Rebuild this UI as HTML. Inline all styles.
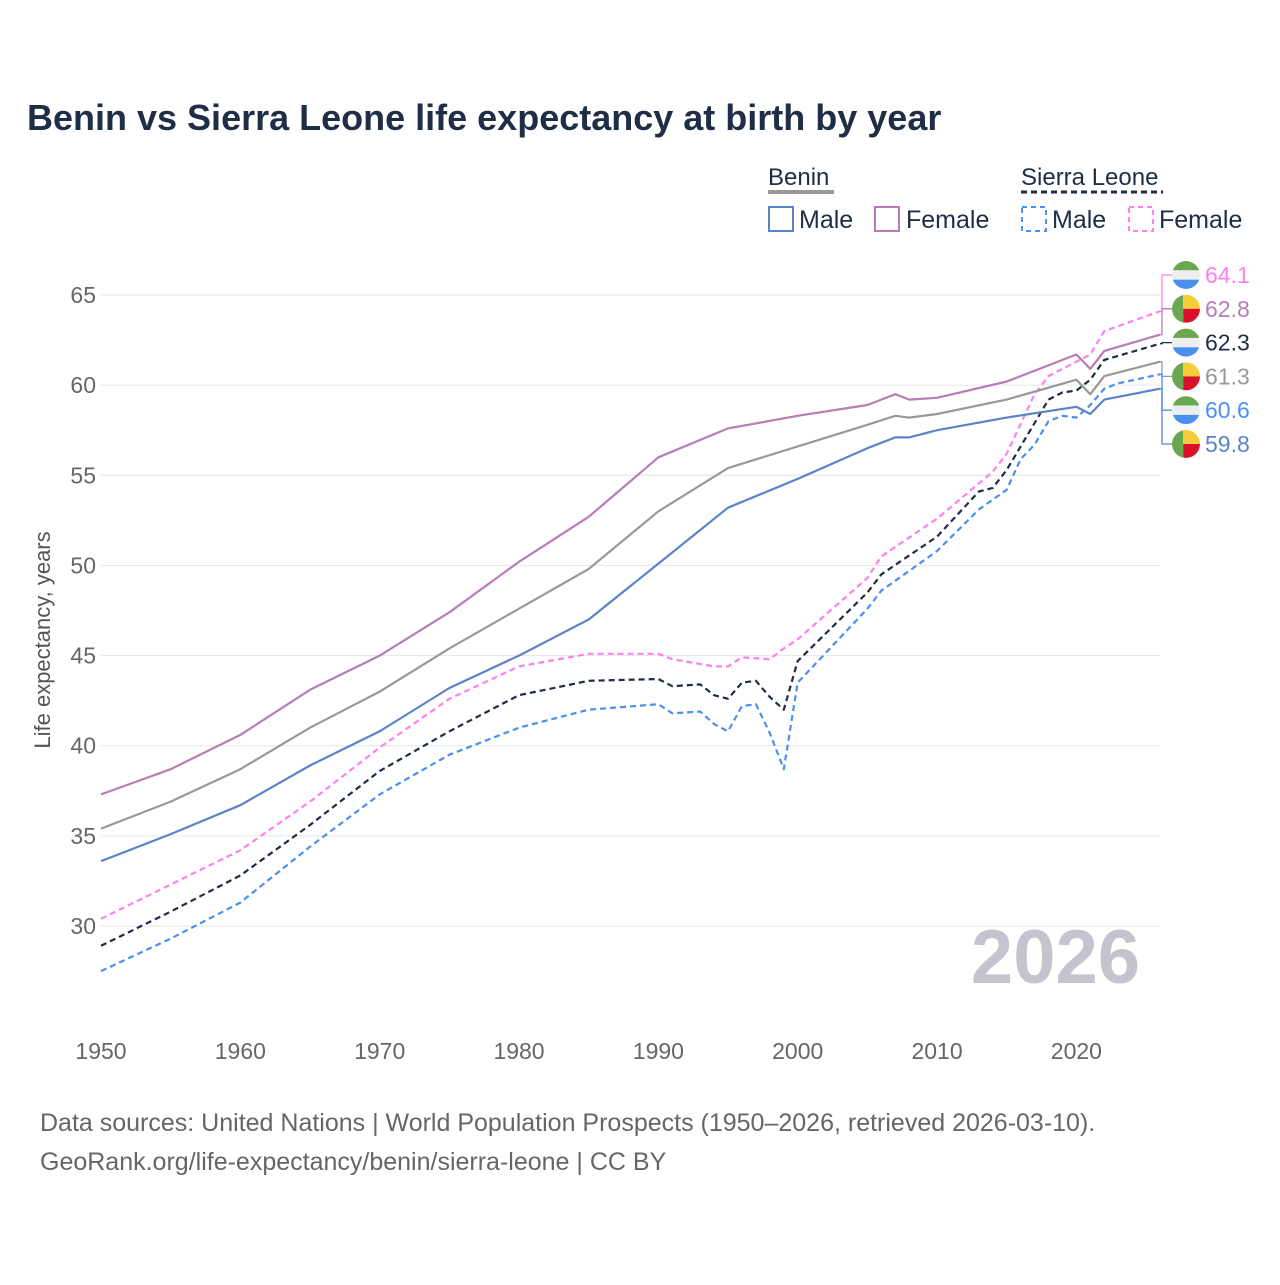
<!DOCTYPE html>
<html><head><meta charset="utf-8">
<style>
body{margin:0;background:#fff;font-family:"Liberation Sans",sans-serif;}
svg text{font-family:"Liberation Sans",sans-serif;}
</style></head>
<body>
<svg id="c" width="1280" height="1280" viewBox="0 0 1280 1280">
<text x="27" y="130" font-size="36" font-weight="bold" fill="#1f2d45">Benin vs Sierra Leone life expectancy at birth by year</text>
<g>
<text x="768" y="185" font-size="24" fill="#1f2d45">Benin</text>
<line x1="768" y1="192" x2="834" y2="192" stroke="#999" stroke-width="4"/>
<rect x="769" y="207" width="24" height="24" fill="none" stroke="#5b84c8" stroke-width="2"/>
<text x="799" y="228" font-size="25" fill="#1f2d45">Male</text>
<rect x="875" y="207" width="24" height="24" fill="none" stroke="#b87cb8" stroke-width="2"/>
<text x="906" y="228" font-size="25" fill="#1f2d45">Female</text>
<text x="1021" y="185" font-size="24" fill="#1f2d45">Sierra Leone</text>
<line x1="1021" y1="192" x2="1163" y2="192" stroke="#1f2d45" stroke-width="3" stroke-dasharray="6,4"/>
<rect x="1022" y="207" width="24" height="24" fill="none" stroke="#4a90f0" stroke-width="2" stroke-dasharray="5,4"/>
<text x="1052" y="228" font-size="25" fill="#1f2d45">Male</text>
<rect x="1129" y="207" width="24" height="24" fill="none" stroke="#ff80ee" stroke-width="2" stroke-dasharray="5,4"/>
<text x="1159" y="228" font-size="25" fill="#1f2d45">Female</text>
</g>
<text transform="translate(50,640) rotate(-90)" text-anchor="middle" font-size="22" fill="#555">Life expectancy, years</text>
<text x="1140" y="983" text-anchor="end" font-size="76" font-weight="bold" fill="#c4c4cf">2026</text>
<g id="grid"></g><g id="lines"></g><g id="labels"></g>
<text x="40" y="1131" font-size="25" fill="#666">Data sources: United Nations | World Population Prospects (1950–2026, retrieved 2026-03-10).</text>
<text x="40" y="1170" font-size="25" fill="#666">GeoRank.org/life-expectancy/benin/sierra-leone | CC BY</text>
</svg>
<script>
const yTicks=[30,35,40,45,50,55,60,65];
const xTicks=[1950,1960,1970,1980,1990,2000,2010,2020];
const bfYears=[1950,1955,1960,1965,1970,1975,1980,1985,1990,1995,2000,2005,2007,2008,2010,2015,2020,2021,2022,2026];
const bfVals=[37.3,38.7,40.6,43.1,45.0,47.4,50.2,52.7,56.0,57.6,58.3,58.9,59.5,59.2,59.3,60.2,61.7,60.9,61.9,62.8];
const btYears=[1950,1955,1960,1965,1970,1975,1980,1985,1990,1995,2000,2005,2007,2008,2010,2015,2020,2021,2022,2026];
const btVals=[35.4,36.9,38.7,41.0,43.0,45.4,47.6,49.8,53.0,55.4,56.6,57.8,58.3,58.2,58.4,59.2,60.3,59.5,60.5,61.3];
const bmYears=[1950,1955,1960,1965,1970,1975,1980,1985,1990,1995,2000,2005,2007,2008,2010,2015,2020,2021,2022,2026];
const bmVals=[33.6,35.1,36.7,38.9,40.8,43.2,45.0,47.0,50.1,53.2,54.8,56.5,57.1,57.1,57.5,58.2,58.8,58.4,59.2,59.8];
const sfYears=[1950,1955,1960,1965,1970,1975,1980,1985,1990,1991,1994,1995,1996,1998,1999,2000,2005,2006,2010,2014,2015,2017,2018,2020,2021,2022,2026];
const sfVals=[30.4,32.3,34.2,36.9,39.9,42.6,44.4,45.1,45.1,44.8,44.4,44.4,44.9,44.8,45.4,45.9,49.3,50.5,52.6,55.2,56.2,59.5,60.5,61.3,61.7,63.0,64.1];
const stYears=[1950,1955,1960,1965,1970,1975,1980,1985,1990,1991,1993,1994,1995,1996,1997,1998,1999,2000,2005,2006,2010,2013,2014,2015,2017,2018,2019,2020,2021,2022,2026];
const stVals=[28.9,30.8,32.8,35.6,38.6,40.8,42.8,43.6,43.7,43.3,43.4,42.8,42.6,43.5,43.6,42.7,42.0,44.7,48.5,49.5,51.6,54.1,54.3,55.3,57.9,59.2,59.6,59.7,60.3,61.4,62.3];
const smYears=[1950,1955,1960,1965,1970,1975,1980,1985,1990,1991,1993,1994,1995,1996,1997,1998,1999,2000,2005,2006,2010,2013,2015,2016,2017,2018,2019,2020,2021,2022,2023,2026];
const smVals=[27.5,29.3,31.3,34.4,37.3,39.5,41.0,42.0,42.3,41.8,41.9,41.2,40.8,42.2,42.3,40.7,38.7,43.5,47.6,48.6,50.8,53.1,54.2,55.9,56.7,58.0,58.3,58.2,58.9,59.8,60.1,60.6];
const endLabels=["64.1","62.8","62.3","61.3","60.6","59.8"];
const NS="http://www.w3.org/2000/svg";
const x=v=>101+(v-1950)*(1059/76);
const y=v=>295+(65-v)*(631/35);
function mk(t,a,p){const e=document.createElementNS(NS,t);for(const k in a)e.setAttribute(k,a[k]);p.appendChild(e);return e;}
const grid=document.getElementById('grid');
yTicks.forEach(t=>{
 const l=mk('line',{x1:101,x2:1160,y1:y(t),y2:y(t),stroke:'#e6e6e6','stroke-width':1},grid);
 
 
 const tx=mk('text',{x:96,y:y(t)+8,'text-anchor':'end','font-size':23,fill:'#666'},grid);tx.textContent=t;
 
 
});
xTicks.forEach(t=>{
 const tx=mk('text',{x:x(t),y:1059,'text-anchor':'middle','font-size':23,fill:'#666'},grid);tx.textContent=t;
 
 
});
const lines=document.getElementById('lines');
const series=[
 [smYears,smVals,'#4a90f0','6,4','sierra-leone-male-line'],
 [sfYears,sfVals,'#ff80ee','6,4','sierra-leone-female-line'],
 [stYears,stVals,'#1f2d45','6,4','sierra-leone-total-line'],
 [bmYears,bmVals,'#5b84c8','','benin-male-line'],
 [bfYears,bfVals,'#b87cb8','','benin-female-line'],
 [btYears,btVals,'#999999','','benin-total-line']];
series.forEach(s=>{
 const pts=s[0].map((yr,i)=>x(yr).toFixed(1)+','+y(s[1][i]).toFixed(1)).join(' ');
 const p=mk('polyline',{points:pts,fill:'none',stroke:s[2],'stroke-width':2.2,'stroke-dasharray':s[3]||'none','stroke-linejoin':'round'},lines);
 
 
});
const lab=document.getElementById('labels');
const ends=[[sfVals,'#ff80ee','sl'],[bfVals,'#b87cb8','bj'],[stVals,'#1f2d45','sl'],[btVals,'#999999','bj'],[smVals,'#4a90f0','sl'],[bmVals,'#5b84c8','bj']];
ends.forEach((e,i)=>{
 const ly=275+i*33.8, ey=y(e[0][e[0].length-1]);
 const pl=mk('polyline',{points:`1160,${ey} 1162,${ey} 1162,${ly} 1172,${ly}`,fill:'none',stroke:e[1],'stroke-width':1.3},lab);
 
 
 const cx=1186,r=14;
 const g=mk('g',{},lab);
 
 
 const cp=mk('clipPath',{id:'cp'+i},g);mk('circle',{cx:cx,cy:ly,r:r},cp);
 const gg=mk('g',{'clip-path':`url(#cp${i})`},g);
 if(e[2]==='sl'){
  mk('rect',{x:cx-r,y:ly-r,width:2*r,height:r*2/3,fill:'#6aa84f'},gg);
  mk('rect',{x:cx-r,y:ly-r/3,width:2*r,height:r*2/3,fill:'#eeeeee'},gg);
  mk('rect',{x:cx-r,y:ly+r/3,width:2*r,height:r*2/3,fill:'#4a90f0'},gg);
 }else{
  mk('rect',{x:cx-r,y:ly-r,width:r*0.8,height:2*r,fill:'#6aa84f'},gg);
  mk('rect',{x:cx-r*0.2,y:ly-r,width:r*1.2,height:r,fill:'#f5cd3b'},gg);
  mk('rect',{x:cx-r*0.2,y:ly,width:r*1.2,height:r,fill:'#d9112a'},gg);
 }
 const t=mk('text',{x:1205,y:ly+8,'font-size':23,fill:e[1]},lab);t.textContent=endLabels[i];
 
 
});
</script>
</body></html>
